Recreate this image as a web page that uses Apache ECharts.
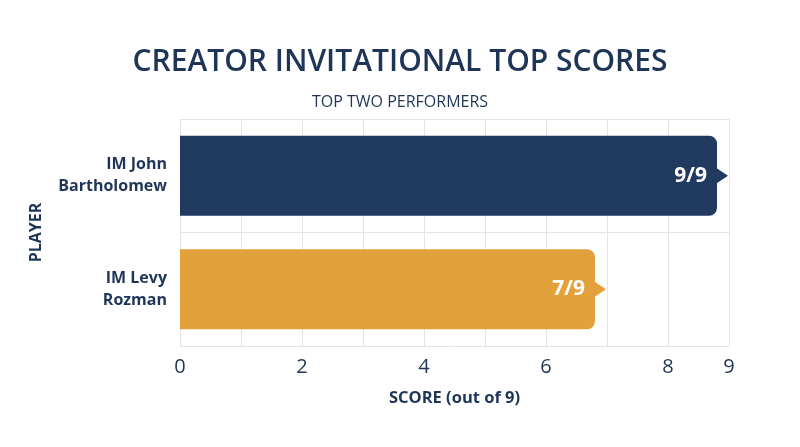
<!DOCTYPE html>
<html>
<head>
<meta charset="utf-8">
<script src="https://cdn.jsdelivr.net/npm/echarts@6/dist/echarts.min.js"></script>
<style>
html,body{margin:0;padding:0;background:#fff;}
#main{width:800px;height:447px;}
</style>
</head>
<body>
<div id="main"></div>
<script>
const players = ['IM John\nBartholomew', 'IM Levy\nRozman'];
const scores = [9, 7];
const scoreLabels = ['9/9', '7/9'];
const barColors = ['#213a60', '#e3a13b'];
const tickLabels = [0, 2, 4, 6, 8, 9];

const NAVY = '#1f3557';
const FONT = 'Open Sans';

const chart = echarts.init(document.getElementById('main'));
chart.setOption({
  backgroundColor: '#ffffff',
  title: [{
    text: 'CREATOR INVITATIONAL TOP SCORES',
    left: 'center', top: 42,
    textStyle: {fontFamily: FONT, fontSize: 30, fontWeight: 600, color: NAVY}
  }, {
    text: 'TOP TWO PERFORMERS',
    left: 'center', top: 89,
    textStyle: {fontFamily: FONT, fontSize: 16, fontWeight: 'normal', color: NAVY}
  }],
  grid: {left: 180, right: 71, top: 119, bottom: 101},
  xAxis: {
    type: 'value', min: 0, max: 9, interval: 1,
    name: 'SCORE (out of 9)', nameLocation: 'middle', nameGap: 44,
    nameTextStyle: {fontFamily: FONT, fontSize: 16.5, fontWeight: 'bold', color: NAVY},
    axisLine: {show: false}, axisTick: {show: false},
    axisLabel: {
      customValues: tickLabels,
      fontFamily: FONT, fontSize: 20, color: NAVY, margin: 11
    },
    splitLine: {show: true, lineStyle: {color: '#e4e4e4', width: 1}}
  },
  yAxis: {
    type: 'category', data: players, inverse: true,
    name: 'PLAYER', nameLocation: 'middle', nameGap: 136, nameRotate: 90,
    nameTextStyle: {fontFamily: FONT, fontSize: 16, fontWeight: 'bold', color: NAVY},
    axisLine: {show: false}, axisTick: {show: false},
    axisLabel: {fontFamily: FONT, fontSize: 16, fontWeight: 'bold', color: NAVY, margin: 13, lineHeight: 22, align: 'right'},
    splitLine: {show: true, lineStyle: {color: '#e4e4e4', width: 1}}
  },
  series: [{
    type: 'custom',
    coordinateSystem: 'cartesian2d',
    encode: {x: 0, y: 1},
    data: scores.map((s, i) => [s, i]),
    renderItem: function (params, api) {
      const v = api.value(0);
      const c = api.value(1);
      const start = api.coord([0, c]);
      const end = api.coord([v, c]);
      const bandH = api.size([0, 1])[1];
      const h = bandH * 0.705;
      const x0 = start[0];
      const x1 = end[0] - 12;
      const y = start[1] - h / 2;
      const color = barColors[params.dataIndex];
      return {
        type: 'group',
        children: [{
          type: 'rect',
          shape: {x: x0, y: y, width: x1 - x0, height: h, r: [0, 8, 8, 0]},
          style: {fill: color}
        }, {
          type: 'polygon',
          shape: {points: [[x1 - 1, end[1] - 8], [x1 + 11, end[1]], [x1 - 1, end[1] + 8]]},
          style: {fill: color}
        }, {
          type: 'text',
          style: {
            text: scoreLabels[params.dataIndex],
            x: x1 - 10, y: end[1],
            align: 'right', verticalAlign: 'middle',
            fill: '#ffffff', fontFamily: FONT, fontSize: 21, fontWeight: 'bold'
          }
        }]
      };
    }
  }]
});
</script>
</body>
</html>
